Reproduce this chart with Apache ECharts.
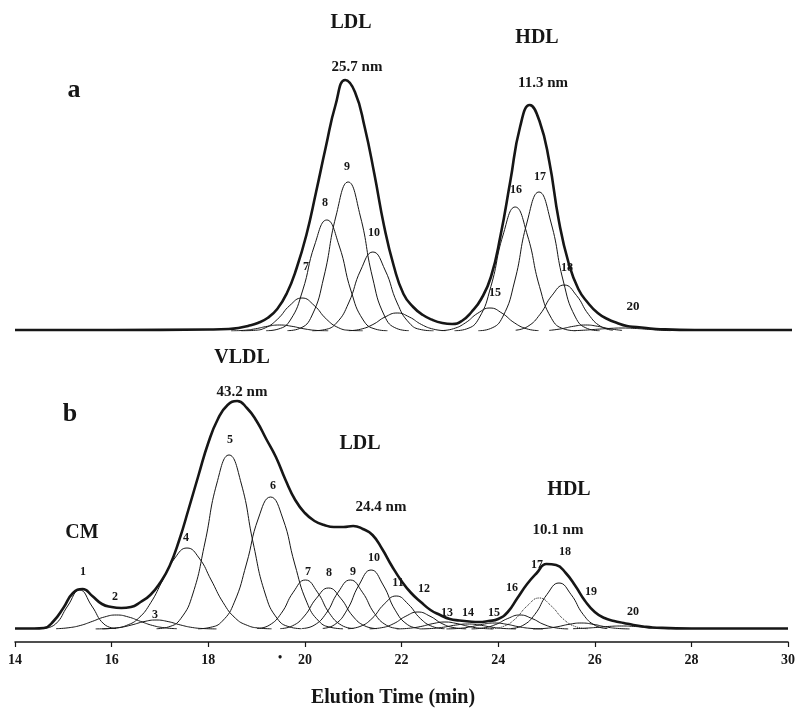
<!DOCTYPE html>
<html>
<head>
<meta charset="utf-8">
<script src="https://cdn.jsdelivr.net/npm/echarts@6/dist/echarts.min.js"></script>
<style>
html,body{margin:0;padding:0;background:#fff;}
#chart{width:798px;height:713px;}
</style>
</head>
<body>
<div id="chart"></div>
<script>
// elution time (min) vs detector response (a.u.)

// ---- panel a: envelope + fitted components ----
const envelopeA = [[14,1],[16,1],[18,1.5],[18.4,2],[18.6,3],[18.8,5],[19.0,8],[19.2,13],[19.4,22],[19.6,38],[19.8,63],[20.0,96],[20.2,139],[20.4,184],[20.6,226],[20.8,251],[21.0,239],[21.2,204],[21.4,157],[21.6,105],[21.8,65],[22.0,37],[22.2,24],[22.4,16],[22.6,11],[22.8,8],[23.0,7],[23.2,10],[23.4,19],[23.6,32],[23.8,54],[24.0,96],[24.2,150],[24.4,204],[24.6,226],[24.8,210],[25.0,170],[25.2,110],[25.4,68],[25.6,42],[25.8,28],[26.0,18],[26.2,12],[26.4,8],[26.6,5],[26.8,4],[27.0,3],[27.2,2],[28,1],[30,1]];

const compA6 = [[18.45,0.1],[18.7,0.6],[18.95,2.2],[19.2,4.7],[19.45,6],[19.7,4.7],[19.95,2.2],[20.2,0.6],[20.45,0.1]];
const compA7 = [[18.66,0.1],[18.91,0.6],[19.16,3.3],[19.41,12],[19.66,25.6],[19.91,33],[20.16,25.6],[20.41,12],[20.66,3.3],[20.91,0.6],[21.16,0.1]];
const compA8 = [[19.17,0.2],[19.42,1.9],[19.67,11],[19.92,40],[20.17,86],[20.42,111],[20.67,86],[20.92,40],[21.17,11],[21.42,1.9],[21.67,0.2]];
const compA9 = [[19.61,0.3],[19.86,2.5],[20.11,15],[20.36,54],[20.61,115],[20.86,149],[21.11,115],[21.36,54],[21.61,15],[21.86,2.5],[22.11,0.3]];
const compA10 = [[20.12,0.1],[20.37,1.3],[20.62,8],[20.87,28],[21.12,61],[21.37,79],[21.62,61],[21.87,28],[22.12,8],[22.37,1.3],[22.62,0.1]];
const compA11 = [[20.87,0.3],[21.12,1.8],[21.37,6.5],[21.62,14],[21.87,18],[22.12,14],[22.37,6.5],[22.62,1.8],[22.87,0.3]];
const compA15 = [[22.78,0.4],[23.03,2.3],[23.28,8.3],[23.53,17.8],[23.78,23],[24.03,17.8],[24.28,8.3],[24.53,2.3],[24.78,0.4]];
const compA16 = [[23.05,0.2],[23.3,2.1],[23.55,12.4],[23.8,44.6],[24.05,96],[24.3,124],[24.55,96],[24.8,44.6],[25.05,12.4],[25.3,2.1],[25.55,0.2]];
const compA17 = [[23.54,0.2],[23.79,2.4],[24.04,13.9],[24.29,50],[24.54,108],[24.79,139],[25.04,108],[25.29,50],[25.54,13.9],[25.79,2.4],[26.04,0.2]];
const compA18 = [[24.31,0.8],[24.56,4.6],[24.81,16.6],[25.06,35.7],[25.31,46],[25.56,35.7],[25.81,16.6],[26.06,4.6],[26.31,0.8]];
const compA19 = [[25.0,0.6],[25.25,2.2],[25.5,4.7],[25.75,6],[26.0,4.7],[26.25,2.2],[26.5,0.6]];
const compA20 = [[25.5,0.3],[25.75,0.9],[26.0,1.8],[26.25,2.6],[26.5,3],[26.75,2.6],[27.0,1.8],[27.25,0.9],[27.5,0.3]];

// ---- panel b ----
const envelopeB = [[14,0.5],[14.4,0.5],[14.6,1],[14.8,8],[15.0,21],[15.2,36],[15.4,40],[15.6,33],[15.8,25],[16.0,22],[16.2,21],[16.4,22],[16.6,27],[16.8,34],[17.0,46],[17.2,63],[17.4,89],[17.6,121],[17.8,154],[18.0,186],[18.2,210],[18.4,224],[18.6,228],[18.8,221],[19.0,208],[19.2,190],[19.4,172],[19.6,149],[19.8,129],[20.0,116],[20.2,108],[20.4,104],[20.6,102],[20.8,102],[21.0,103],[21.2,100],[21.4,94],[21.6,80],[21.8,63],[22.0,48],[22.2,36],[22.4,27],[22.6,19],[22.8,14],[23.0,10],[23.2,8.5],[23.4,7.5],[23.6,7],[23.8,8],[24.0,10],[24.2,17],[24.4,31],[24.6,45],[24.8,56],[25.0,65],[25.2,64],[25.4,56],[25.6,43],[25.8,28],[26.0,17],[26.2,11],[26.4,8],[26.6,6],[26.8,4],[27.0,2.5],[27.2,1.5],[28,0.5],[30,0.5]];

const compB1 = [[14.59,0.4],[14.84,5],[15.09,23],[15.34,39],[15.59,23],[15.84,5],[16.09,0.4]];
const compB2 = [[14.85,0.3],[15.1,1.2],[15.35,3.5],[15.6,7.6],[15.85,12],[16.1,14],[16.35,12],[16.6,7.6],[16.85,3.5],[17.1,1.2],[17.35,0.3]];
const compB3 = [[15.67,0.1],[15.92,0.4],[16.17,1.5],[16.42,4.1],[16.67,7.4],[16.92,9],[17.17,7.4],[17.42,4.1],[17.67,1.5],[17.92,0.4],[18.17,0.1]];
const compB4 = [[15.81,0.2],[16.06,0.9],[16.31,3.6],[16.56,10.9],[16.81,26.3],[17.06,49],[17.31,71],[17.56,81],[17.81,71],[18.06,49],[18.31,26.3],[18.56,10.9],[18.81,3.6],[19.06,0.9],[19.31,0.2]];
const compB5 = [[16.93,0.3],[17.18,2.1],[17.43,10.3],[17.68,35],[17.93,86],[18.18,146],[18.43,174],[18.68,146],[18.93,86],[19.18,35],[19.43,10.3],[19.68,2.1],[19.93,0.3]];
const compB6 = [[17.79,0.2],[18.04,1.6],[18.29,7.8],[18.54,26.8],[18.79,65],[19.04,111],[19.29,132],[19.54,111],[19.79,65],[20.04,26.8],[20.29,7.8],[20.54,1.6],[20.79,0.2]];
const compB7 = [[19.01,0.5],[19.26,3.7],[19.51,15.6],[19.76,36.8],[20.01,49],[20.26,36.8],[20.51,15.6],[20.76,3.7],[21.01,0.5]];
const compB8 = [[19.49,0.4],[19.74,3.1],[19.99,13],[20.24,30.8],[20.49,41],[20.74,30.8],[20.99,13],[21.24,3.1],[21.49,0.4]];
const compB9 = [[19.94,0.5],[20.19,3.7],[20.44,15.6],[20.69,36.8],[20.94,49],[21.19,36.8],[21.44,15.6],[21.69,3.7],[21.94,0.5]];
const compB10 = [[20.37,0.6],[20.62,4.5],[20.87,18.8],[21.12,44],[21.37,59],[21.62,44],[21.87,18.8],[22.12,4.5],[22.37,0.6]];
const compB11 = [[20.89,0.3],[21.14,2.5],[21.39,10.5],[21.64,24.8],[21.89,33],[22.14,24.8],[22.39,10.5],[22.64,2.5],[22.89,0.3]];
const compB12 = [[21.34,0.2],[21.59,1.3],[21.84,5.4],[22.09,12.8],[22.34,17],[22.59,12.8],[22.84,5.4],[23.09,1.3],[23.34,0.2]];
const compB13 = [[21.9,0.1],[22.15,0.7],[22.4,2.5],[22.65,5.4],[22.9,7],[23.15,5.4],[23.4,2.5],[23.65,0.7],[23.9,0.1]];
const compB14 = [[22.37,0.1],[22.62,0.5],[22.87,1.8],[23.12,3.9],[23.37,5],[23.62,3.9],[23.87,1.8],[24.12,0.5],[24.37,0.1]];
const compB15 = [[22.93,0.1],[23.18,0.6],[23.43,2.2],[23.68,4.7],[23.93,6],[24.18,4.7],[24.43,2.2],[24.68,0.6],[24.93,0.1]];
const compB16 = [[23.45,0.1],[23.7,1.1],[23.95,4.5],[24.2,10.5],[24.45,14],[24.7,10.5],[24.95,4.5],[25.2,1.1],[25.45,0.1]];
const compB17 = [[23.85,0.3],[24.1,2.4],[24.35,9.9],[24.6,23],[24.85,31],[25.1,23],[25.35,9.9],[25.6,2.4],[25.85,0.3]];
const compB18 = [[24.26,0.5],[24.51,3.5],[24.76,14.6],[25.01,34.5],[25.26,46],[25.51,34.5],[25.76,14.6],[26.01,3.5],[26.26,0.5]];
const compB19 = [[24.72,0.1],[24.97,0.6],[25.22,2.2],[25.47,4.7],[25.72,6],[25.97,4.7],[26.22,2.2],[26.47,0.6],[26.72,0.1]];
const compB20 = [[25.55,0.3],[25.8,0.8],[26.05,1.6],[26.3,2.6],[26.55,3],[26.8,2.6],[27.05,1.6],[27.3,0.8],[27.55,0.3]];

const componentsA = [compA6, compA7, compA8, compA9, compA10, compA11, compA15, compA16, compA17, compA18, compA19, compA20];
const componentsB = [compB1, compB2, compB3, compB4, compB5, compB6, compB7, compB8, compB9, compB10, compB11, compB12, compB13, compB14, compB15, compB16, compB17, compB18, compB19, compB20];

const serif = '"Liberation Serif", "DejaVu Serif", serif';
const ink = '#161616';

function curve(data, panel, width, dash) {
    return {
        type: 'line',
        xAxisIndex: panel,
        yAxisIndex: panel,
        data: data,
        smooth: 0.5,
        symbol: 'none',
        silent: true,
        lineStyle: { color: ink, width: width, type: dash || 'solid' },
        z: width > 2 ? 5 : 3
    };
}

function txt(text, x, y, size) {
    return {
        type: 'text', x: x, y: y, silent: true,
        style: { text: text, fill: ink, font: 'bold ' + size + 'px ' + serif, align: 'center', verticalAlign: 'middle' }
    };
}

const series = [];
componentsA.forEach(function (c) { series.push(curve(c, 0, 1)); });
series.push(curve(envelopeA, 0, 2.6));
componentsB.forEach(function (c) { series.push(curve(c, 1, 1, c === compB17 ? 'dotted' : 'solid')); });
series.push(curve(envelopeB, 1, 2.6));

const chart = echarts.init(document.getElementById('chart'));
chart.setOption({
    animation: false,
    backgroundColor: '#fff',
    grid: [
        { left: 15, right: 6, top: 31, bottom: 382 },
        { left: 15, right: 6, top: 379, bottom: 71 }
    ],
    xAxis: [
        { gridIndex: 0, type: 'value', min: 14, max: 30, show: false },
        {
            gridIndex: 1, type: 'value', min: 14, max: 30, interval: 2,
            axisLine: { onZero: false, lineStyle: { color: ink, width: 1.5 } },
            axisTick: { length: 5, lineStyle: { color: ink, width: 1.2 } },
            axisLabel: { color: ink, fontFamily: serif, fontWeight: 'bold', fontSize: 14, margin: 11 },
            splitLine: { show: false }
        }
    ],
    yAxis: [
        { gridIndex: 0, type: 'value', min: 0, max: 300, show: false },
        { gridIndex: 1, type: 'value', min: -13, max: 250, show: false }
    ],
    series: series,
    graphic: [
        txt('a', 74, 90, 26),
        txt('LDL', 351, 23, 20),
        txt('25.7 nm', 357, 67, 15),
        txt('HDL', 537, 38, 20),
        txt('11.3 nm', 543, 83, 15),
        txt('7', 306, 267, 12),
        txt('8', 325, 203, 12),
        txt('9', 347, 167, 12),
        txt('10', 374, 233, 12),
        txt('15', 495, 293, 12),
        txt('16', 516, 190, 12),
        txt('17', 540, 177, 12),
        txt('18', 567, 268, 12),
        txt('20', 633, 307, 13),

        txt('b', 70, 414, 26),
        txt('VLDL', 242, 358, 20),
        txt('43.2 nm', 242, 392, 15),
        txt('LDL', 360, 444, 20),
        txt('24.4 nm', 381, 507, 15),
        txt('CM', 82, 533, 20),
        txt('HDL', 569, 490, 20),
        txt('10.1 nm', 558, 530, 15),
        txt('1', 83, 572, 12),
        txt('2', 115, 597, 12),
        txt('3', 155, 615, 12),
        txt('4', 186, 538, 12),
        txt('5', 230, 440, 12),
        txt('6', 273, 486, 12),
        txt('7', 308, 572, 12),
        txt('8', 329, 573, 12),
        txt('9', 353, 572, 12),
        txt('10', 374, 558, 12),
        txt('11', 398, 583, 12),
        txt('12', 424, 589, 12),
        txt('13', 447, 613, 12),
        txt('14', 468, 613, 12),
        txt('15', 494, 613, 12),
        txt('16', 512, 588, 12),
        txt('17', 537, 565, 12),
        txt('18', 565, 552, 12),
        txt('19', 591, 592, 12),
        txt('20', 633, 612, 12),

        txt('\u2022', 280, 658, 12),
        txt('Elution Time (min)', 393, 698, 20)
    ]
});
</script>
</body>
</html>
